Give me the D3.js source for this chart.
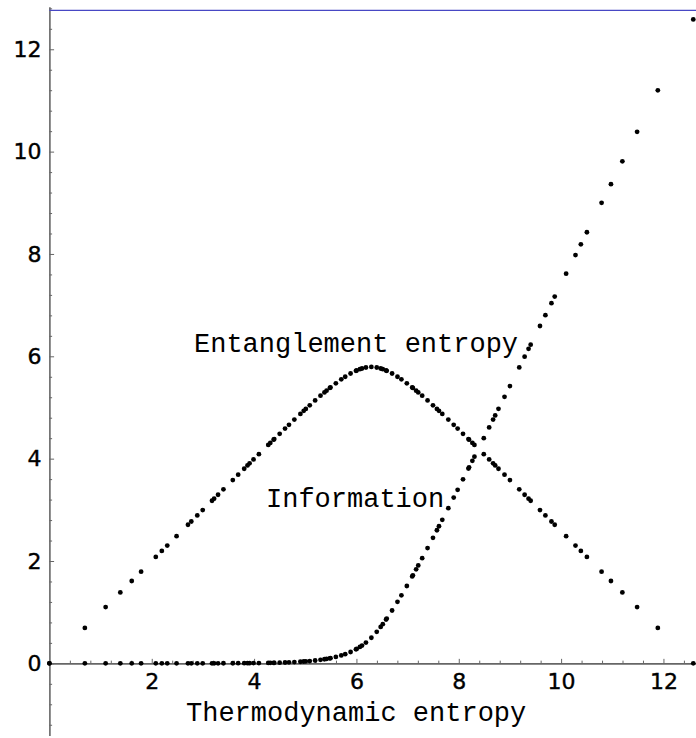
<!DOCTYPE html>
<html lang="en"><head>
<meta charset="utf-8">
<title>Entanglement entropy vs thermodynamic entropy</title>
<script src="https://cdnjs.cloudflare.com/ajax/libs/d3/7.8.5/d3.min.js"></script>
<style>
  body { margin: 0; background: #fff; }
  .tick text { font-family: "DejaVu Sans", sans-serif; font-size: 22px; fill: #000; stroke: #000; stroke-width: 0.4px; }
  .axis path, .axis line { stroke: #666; }
  .lbl { font-family: "Liberation Mono", "Courier New", monospace; font-size: 27px; fill: #000; }
</style>
</head>
<body>
<svg id="chart" width="696" height="738"></svg>
<script>
// thermodynamic entropy (x) for every sample point
var thermo = [0, 0.693, 1.099, 1.386, 1.609, 1.792, 2.079, 2.197, 2.303, 2.485,
  2.708, 2.773, 2.890, 2.996, 3.178, 3.219, 3.296, 3.401, 3.584, 3.689,
  3.807, 3.871, 3.912, 3.989, 4.094, 4.277, 4.317, 4.382, 4.394, 4.500,
  4.605, 4.682, 4.787, 4.905, 4.970, 5.011, 5.088, 5.193, 5.298, 5.375,
  5.416, 5.481, 5.493, 5.598, 5.704, 5.781, 5.886, 5.991, 6.004, 6.068,
  6.109, 6.186, 6.292,
  6.397, 6.474, 6.515, 6.579, 6.592, 6.697, 6.802, 6.879, 6.985, 7.090,
  7.103, 7.167, 7.208, 7.285, 7.390, 7.496, 7.573, 7.613, 7.678, 7.796,
  7.901, 7.978, 8.083, 8.189, 8.201, 8.266, 8.306, 8.489, 8.594, 8.671,
  8.712, 8.776, 8.894, 9.000, 9.182, 9.287, 9.364, 9.405, 9.587, 9.693,
  9.811, 9.875, 10.098, 10.281, 10.386, 10.504, 10.791, 10.974, 11.197, 11.485,
  11.890, 12.583];

var entanglement = [0, 0.693, 1.099, 1.386, 1.609, 1.792, 2.079, 2.197, 2.302, 2.485,
  2.708, 2.772, 2.890, 2.995, 3.177, 3.218, 3.295, 3.400, 3.581, 3.686,
  3.803, 3.867, 3.908, 3.984, 4.088, 4.268, 4.308, 4.371, 4.383, 4.486,
  4.588, 4.662, 4.763, 4.874, 4.934, 4.972, 5.043, 5.137, 5.230, 5.295,
  5.329, 5.382, 5.392, 5.473, 5.550, 5.601, 5.664, 5.717, 5.723, 5.748,
  5.762, 5.781, 5.792,
  5.781, 5.762, 5.748, 5.723, 5.717, 5.664, 5.601, 5.550, 5.473, 5.392,
  5.382, 5.329, 5.295, 5.230, 5.137, 5.043, 4.972, 4.934, 4.874, 4.763,
  4.662, 4.588, 4.486, 4.383, 4.371, 4.308, 4.268, 4.088, 3.984, 3.908,
  3.867, 3.803, 3.686, 3.581, 3.400, 3.295, 3.218, 3.177, 2.995, 2.890,
  2.772, 2.708, 2.485, 2.302, 2.197, 2.079, 1.792, 1.609, 1.386, 1.099,
  0.693, 0];

var information = [0, 0, 0, 0, 0, 0, 0, 0, 0, 0,
  0, 0, 0.001, 0.001, 0.001, 0.001, 0.001, 0.002, 0.002, 0.003,
  0.003, 0.004, 0.004, 0.005, 0.006, 0.009, 0.010, 0.011, 0.011, 0.014,
  0.017, 0.020, 0.025, 0.031, 0.036, 0.039, 0.045, 0.056, 0.069, 0.080,
  0.087, 0.099, 0.101, 0.125, 0.154, 0.180, 0.222, 0.274, 0.281, 0.320,
  0.347, 0.405, 0.500,
  0.616, 0.712, 0.766, 0.857, 0.874, 1.033, 1.202, 1.330, 1.511, 1.698,
  1.721, 1.838, 1.913, 2.055, 2.253, 2.453, 2.601, 2.679, 2.804, 3.033,
  3.239, 3.390, 3.597, 3.806, 3.830, 3.958, 4.039, 4.401, 4.610, 4.763,
  4.845, 4.973, 5.208, 5.418, 5.782, 5.993, 6.146, 6.228, 6.592, 6.803,
  7.038, 7.167, 7.614, 7.978, 8.189, 8.424, 9.000, 9.364, 9.811, 10.386,
  11.197, 12.583];

var xTicks = [2, 4, 6, 8, 10, 12];
var yTicks = [0, 2, 4, 6, 8, 10, 12];

var svg = d3.select("#chart");
var x = d3.scaleLinear().domain([0, 12.64]).range([49.4, 696.2]);
var y = d3.scaleLinear().domain([-1.41, 12.83]).range([735.5, 6.8]);

function notMajor(v) { return Math.abs(v / 2 - Math.round(v / 2)) > 0.01; }
var minorX = d3.range(0.4, 12.64, 0.4).filter(notMajor);
var minorY = d3.range(-1.2, 12.83, 0.4).filter(notMajor);

// y axis: ticks point right, labels on the left
svg.append("g").attr("class", "axis")
  .attr("transform", "translate(" + x(0) + ",0)")
  .call(d3.axisLeft(y).tickValues(minorY).tickSizeInner(-2.7).tickSizeOuter(0).tickFormat(""))
  .call(g => g.select(".domain").remove());
svg.append("g").attr("class", "axis")
  .attr("transform", "translate(" + x(0) + ",0)")
  .call(d3.axisLeft(y).tickValues(yTicks).tickSizeInner(-4.7).tickSizeOuter(0).tickPadding(8).tickFormat(d3.format("d")))
  .call(g => g.select(".domain").attr("stroke-width", 1.6));

// x axis: ticks point up
svg.append("g").attr("class", "axis")
  .attr("transform", "translate(0," + y(0) + ")")
  .call(d3.axisBottom(x).tickValues(minorX).tickSizeInner(-2.7).tickSizeOuter(0).tickFormat(""))
  .call(g => g.select(".domain").remove());
svg.append("g").attr("class", "axis")
  .attr("transform", "translate(0," + y(0) + ")")
  .call(d3.axisBottom(x).tickValues(xTicks).tickSizeInner(-4.5).tickSizeOuter(0).tickPadding(10).tickFormat(d3.format("d")))
  .call(g => g.select(".domain").attr("stroke-width", 1.6));

// points
var pts = thermo.map((t, i) => ({t: t, e: entanglement[i], inf: information[i]}));
svg.append("g").selectAll("circle.ent")
  .data(pts).enter().append("circle")
  .attr("cx", d => x(d.t)).attr("cy", d => y(d.e))
  .attr("r", 2.4).attr("fill", "#000");
svg.append("g").selectAll("circle.inf")
  .data(pts).enter().append("circle")
  .attr("cx", d => x(d.t)).attr("cy", d => y(d.inf))
  .attr("r", 2.4).attr("fill", "#000");

// labels
svg.append("text").attr("class", "lbl").attr("x", 194).attr("y", 352).text("Entanglement entropy");
svg.append("text").attr("class", "lbl").attr("x", 266).attr("y", 507).text("Information");
svg.append("text").attr("class", "lbl").attr("x", 186).attr("y", 721).text("Thermodynamic entropy");

// thin frame line along the top
svg.append("line")
  .attr("x1", x(0)).attr("x2", 696).attr("y1", 10.3).attr("y2", 10.3)
  .attr("stroke", "#4848c4").attr("stroke-width", 1.3);
</script>
</body></html>
